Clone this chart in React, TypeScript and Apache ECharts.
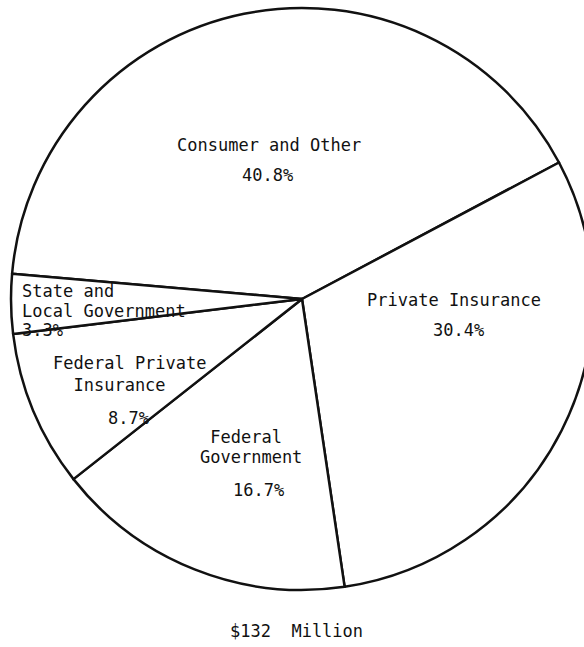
import React, { useEffect, useRef } from "react";
import * as echarts from "echarts";

const categories = [
  "Consumer and Other",
  "Private Insurance",
  "Federal Government",
  "Federal Private Insurance",
  "State and Local Government",
];
const shares = [40.8, 30.4, 16.7, 8.7, 3.3];
const labelLines = [
  "Consumer and Other",
  "Private Insurance",
  " Federal\nGovernment",
  "Federal Private\n  Insurance",
  "State and\nLocal Government",
];
const totalLabel = "$132  Million";

// label placement (layout only)
const nameLayout = [
  { x: 177, y: 145, lh: 20 },
  { x: 367, y: 300, lh: 20 },
  { x: 200, y: 447, lh: 20 },
  { x: 53, y: 374, lh: 22 },
  { x: 22, y: 301, lh: 20 },
];
const pctLayout = [
  { x: 242, y: 175 },
  { x: 433, y: 330 },
  { x: 233, y: 490 },
  { x: 108, y: 418 },
  { x: 22, y: 330 },
];

const FONT = "'DejaVu Sans Mono', 'Liberation Mono', monospace";

export default function App() {
  const ref = useRef<HTMLDivElement>(null);
  useEffect(() => {
    if (!ref.current) return;
    const chart = echarts.init(ref.current, null, { renderer: "svg" });
    const texts: any[] = [];
    categories.forEach((c, i) => {
      texts.push({
        type: "text",
        x: nameLayout[i].x,
        y: nameLayout[i].y,
        z: 10,
        style: {
          text: labelLines[i],
          font: `17px ${FONT}`,
          fill: "#111",
          align: "left",
          verticalAlign: "middle",
          lineHeight: nameLayout[i].lh,
        },
      });
      texts.push({
        type: "text",
        x: pctLayout[i].x,
        y: pctLayout[i].y,
        z: 10,
        style: {
          text: shares[i].toFixed(1) + "%",
          font: `17px ${FONT}`,
          fill: "#111",
          align: "left",
          verticalAlign: "middle",
        },
      });
    });
    texts.push({
      type: "text",
      x: 230,
      y: 631,
      z: 10,
      style: {
        text: totalLabel,
        font: `17px ${FONT}`,
        fill: "#111",
        align: "left",
        verticalAlign: "middle",
      },
    });
    chart.setOption({
      animation: false,
      backgroundColor: "#ffffff",
      graphic: texts,
      series: [
        {
          type: "pie",
          center: [302, 299],
          radius: [0, 291],
          startAngle: 175,
          clockwise: true,
          label: { show: false },
          labelLine: { show: false },
          emphasis: { disabled: true },
          itemStyle: { color: "#ffffff", borderColor: "#111", borderWidth: 2.5 },
          data: categories.map((c, i) => ({ name: c, value: shares[i] })),
        },
      ],
    });
    return () => chart.dispose();
  }, []);
  return (
    <div
      ref={ref}
      style={{ position: "fixed", left: 0, top: 0, width: 584, height: 647 }}
    />
  );
}
